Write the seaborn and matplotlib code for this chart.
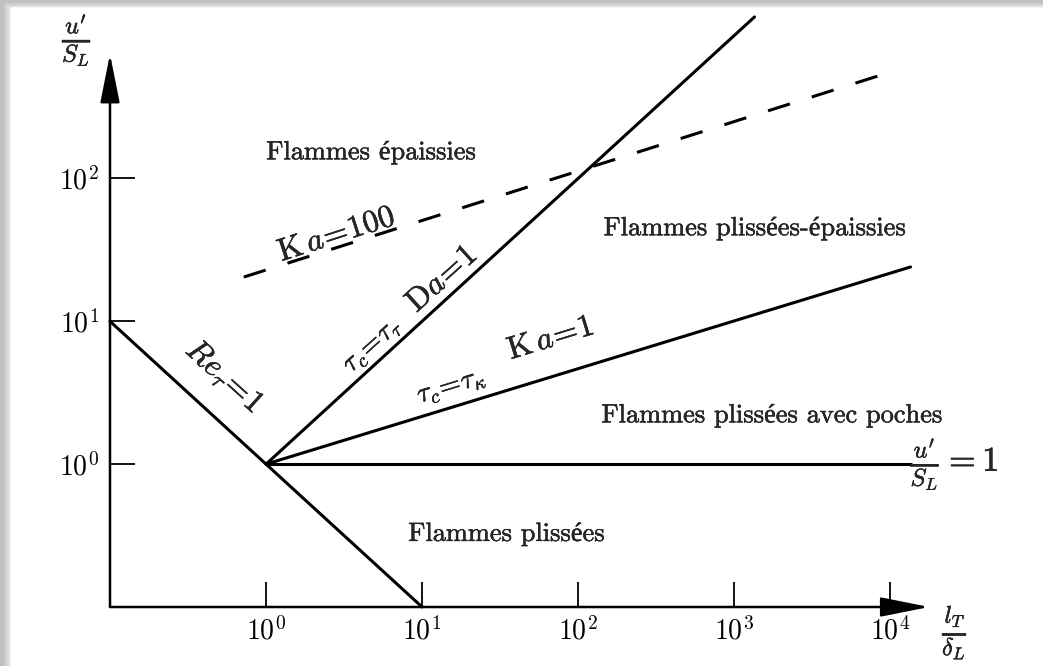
"""
Borghi diagram of premixed turbulent combustion regimes.
"""

import matplotlib
matplotlib.use('Agg')
import matplotlib.pyplot as plt
import matplotlib.patheffects as pe
from matplotlib.patches import Rectangle
import pandas as pd
import seaborn as sns

sns.set_theme(style='white')
plt.rcParams['font.family'] = ['cmr10', 'Liberation Serif']
plt.rcParams['mathtext.fontset'] = 'cm'
plt.rcParams['axes.unicode_minus'] = False

# regime boundaries (l_T/delta_L, u'/S_L)
re1_x = [0.1, 10.0]
re1_y = [10.0, 0.1]
u1_x = [1.0, 13500.0]
u1_y = [1.0, 1.0]
da1_x = [1.0, 1350.0]
da1_y = [1.0, 1350.0]
ka1_x = [1.0, 13500.0]
ka1_y = [1.0, 24.0]
ka100_x = [0.72, 9100.0]
ka100_y = [20.4, 537.0]

tick_x = [1, 10, 100, 1000, 10000]
tick_x_labels = [r'$10^0$', r'$10^1$', r'$10^2$', r'$10^3$', r'$10^4$']
tick_y = [1, 10, 100]
tick_y_labels = [r'$10^0$', r'$10^1$', r'$10^2$']

regions = ['Flammes épaissies', 'Flammes plissées-épaissies',
           'Flammes plissées avec poches', 'Flammes plissées']
region_x = [4.7, 1350.0, 1740.0, 34.7]
region_y = [152.0, 44.7, 2.19, 0.324]

W, H = 1043, 666
fig = plt.figure(figsize=(W / 100, H / 100), dpi=100)
fig.patch.set_facecolor('white')

# soft grey frame on top and left edges
for i, c in enumerate(['#dedede', '#cfcfcf', '#c0c0c0']):
    fig.patches.append(Rectangle((0, 1 - (6 - 2 * i) / H), 1, (6 - 2 * i) / H,
                                 transform=fig.transFigure, color=c, zorder=0))
    fig.patches.append(Rectangle((0, 0), (9 - 3 * i) / W, 1,
                                 transform=fig.transFigure, color=c, zorder=0))

ax = fig.add_axes([110 / W, 59 / H, 827 / W, 600 / H])
ax.set_xscale('log')
ax.set_yscale('log')
ax.set_xlim(0.1, 10 ** 4.3)
ax.set_ylim(0.1, 10 ** 3.2)
ax.patch.set_alpha(0)
for s in ax.spines.values():
    s.set_visible(False)

lines = [(re1_x, re1_y, ''), (u1_x, u1_y, ''), (da1_x, da1_y, ''),
         (ka1_x, ka1_y, ''), (ka100_x, ka100_y, 'dash')]
for xs, ys, style in lines:
    df = pd.DataFrame({'x': xs, 'y': ys})
    ls = (0, (7.5, 7.5)) if style == 'dash' else '-'
    sns.lineplot(data=df, x='x', y='y', ax=ax, color='black', lw=2.2,
                 linestyle=ls, sort=False, estimator=None, clip_on=False)

# axes with arrow heads
arrow = dict(arrowstyle='-|>,head_length=1.5,head_width=0.3',
             mutation_scale=20, lw=1.8, color='black', shrinkA=0, shrinkB=0)
ax.annotate('', xy=(10 ** 4.25, 0.1), xytext=(0.1, 0.1), arrowprops=arrow,
            annotation_clip=False)
ax.annotate('', xy=(0.1, 10 ** 2.87), xytext=(0.1, 0.1), arrowprops=arrow,
            annotation_clip=False)

ax.set_xticks(tick_x)
ax.set_xticklabels(tick_x_labels)
ax.set_yticks(tick_y)
ax.set_yticklabels(tick_y_labels)
ax.minorticks_off()
ax.tick_params(direction='in', length=18, width=1.3, color='black',
               labelsize=20, labelcolor='black', bottom=True, left=True)
ax.tick_params(axis='x', pad=7)
ax.tick_params(axis='y', pad=8)
ax.set_xlabel('')
ax.set_ylabel('')

bold = [pe.withStroke(linewidth=0.3, foreground='black')]

for name, x, y in zip(regions, region_x, region_y):
    ax.text(x, y, name, ha='center', va='center', fontsize=19,
            path_effects=bold)

ax.text(2.85, 40.0, r'$\mathrm{K}\,a\!=\!100$', rotation=18,
        ha='center', va='center', fontsize=23, path_effects=bold)
ax.text(4.8, 6.8, r'$\tau_c\!=\!\tau_\tau$', rotation=42,
        ha='center', va='center', fontsize=20, path_effects=bold)
ax.text(13.5, 19.6, r'$\mathrm{D}a\!=\!1$', rotation=42,
        ha='center', va='center', fontsize=23, path_effects=bold)
ax.text(15.4, 3.5, r'$\tau_c\!=\!\tau_\kappa$', rotation=17,
        ha='center', va='center', fontsize=20, path_effects=bold)
ax.text(67.0, 7.5, r'$\mathrm{K}\,a\!=\!1$', rotation=17,
        ha='center', va='center', fontsize=23, path_effects=bold)
ax.text(0.54, 4.07, r'$Re_\tau\!=\!1$', rotation=-42,
        ha='center', va='center', fontsize=23, path_effects=bold)
ax.text(10 ** 4.13, 1.0, r"$\frac{u'}{S_L} = 1$", ha='left', va='center',
        fontsize=25, clip_on=False, path_effects=bold)

fig.text(77 / W, 1 - 40 / H, r"$\frac{u'}{S_L}$", ha='center', va='center',
         fontsize=25, path_effects=bold)
fig.text(955 / W, 1 - 632 / H, r"$\frac{l_T}{\delta_L}$", ha='center',
         va='center', fontsize=25, path_effects=bold)

plt.savefig('out.png', dpi=100)
plt.close()
